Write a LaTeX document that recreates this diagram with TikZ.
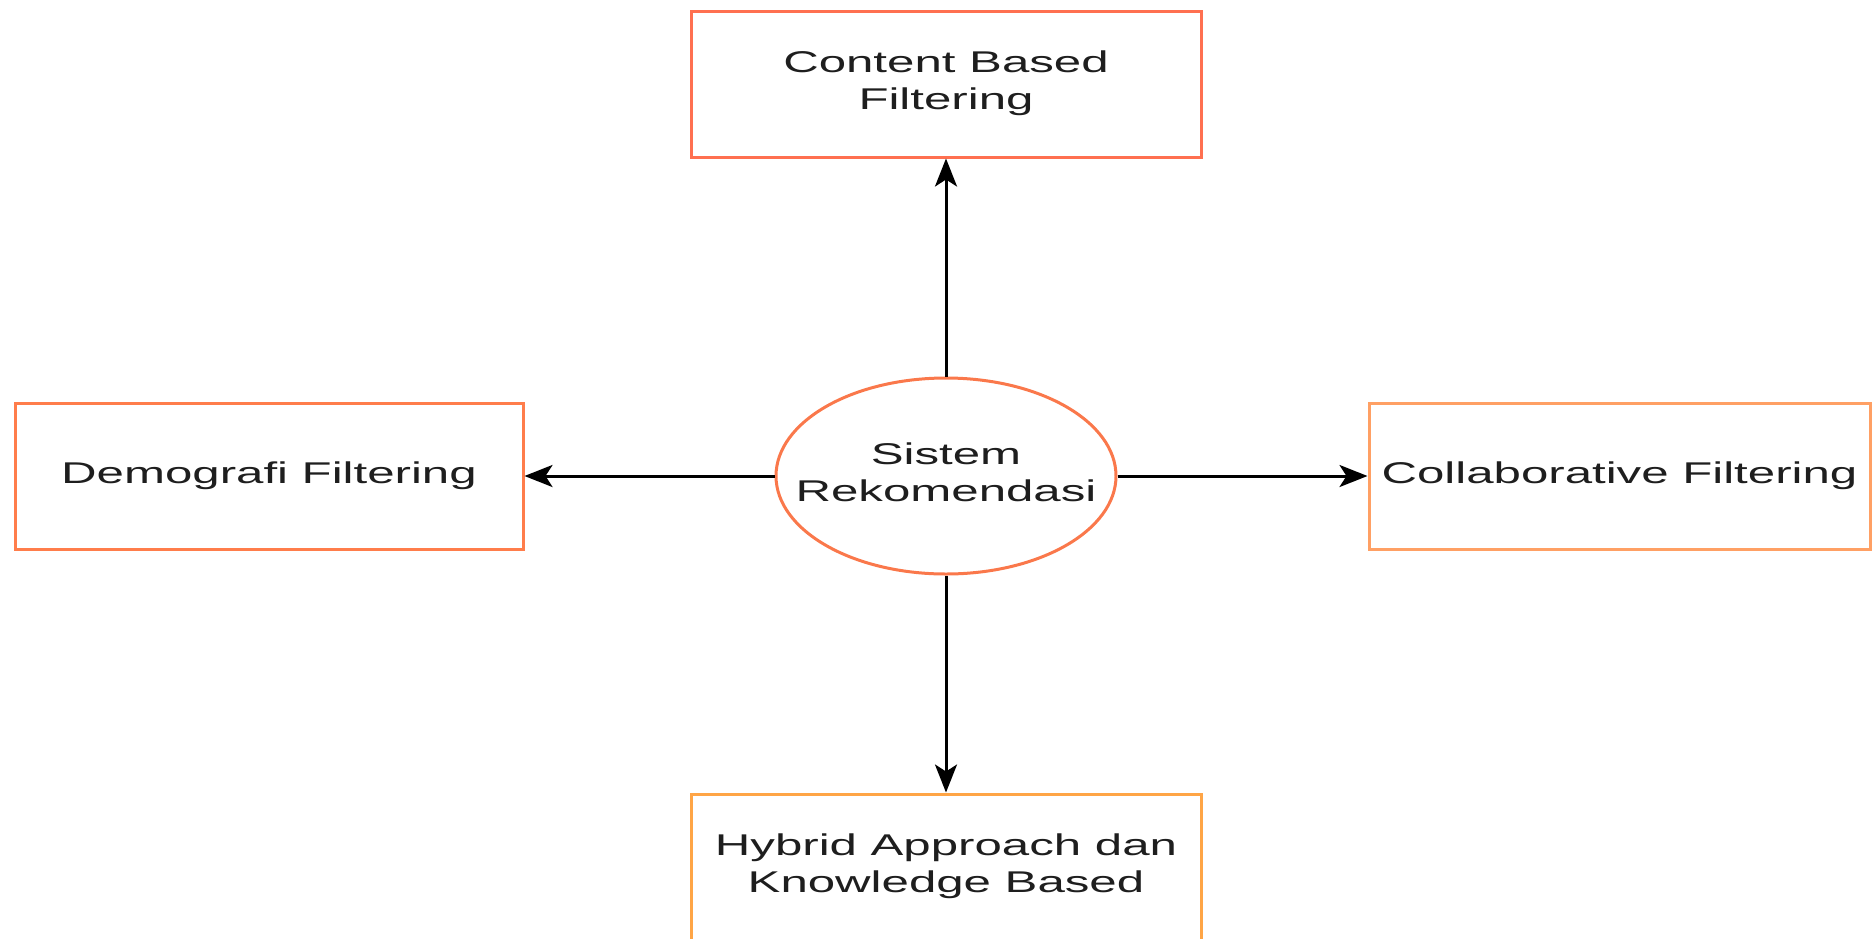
\documentclass[tikz,border=0pt]{standalone}
\usepackage{graphicx}
\usepackage{fontspec}
\setmainfont{Liberation Sans}
\usetikzlibrary{arrows.meta,shapes.geometric}
\definecolor{ctop}{RGB}{255,112,80}
\definecolor{cleft}{RGB}{255,125,75}
\definecolor{cright}{RGB}{255,160,100}
\definecolor{cbot}{RGB}{255,165,70}
\definecolor{cell}{RGB}{250,120,75}
\definecolor{txt}{RGB}{30,30,30}
\newcommand{\widetext}[1]{\scalebox{1.64}[1]{\begin{tabular}{@{}c@{}}#1\end{tabular}}}
\begin{document}
\begin{tikzpicture}[x=1pt,y=-1pt,
  box/.style={draw, rectangle, line width=3pt, minimum height=146pt, inner sep=0pt,
    font=\fontsize{30}{37}\selectfont, text=txt, align=center},
  ell/.style={draw=cell, ellipse, line width=3pt, minimum width=340pt, minimum height=196pt,
    inner sep=0pt},
  lbl/.style={inner sep=0pt, font=\fontsize{30}{37}\selectfont, text=txt, align=center},
  arr/.style={line width=3pt, black, -{Stealth[length=28pt,width=22pt,inset=7pt]}}]
\useasboundingbox (0,0) rectangle (1872,938);
\clip (0,0) rectangle (1872,938);
\node[box, draw=ctop, minimum width=510pt] (top) at (946,84) {\widetext{Content Based\\Filtering}};
\node[box, draw=cleft, minimum width=508pt] (left) at (269,476) {\widetext{Demografi Filtering}};
\node[box, draw=cright, minimum width=501pt] (right) at (1619.5,476) {\widetext{Collaborative Filtering}};
\node[box, draw=cbot, minimum width=510pt] (bot) at (946,867) {\widetext{Hybrid Approach dan\\Knowledge Based}};
\node[ell] (sys) at (946,476) {};
\node[lbl] (syslbl) at (sys.center) {\widetext{Sistem\\Rekomendasi}};
\draw[arr] (sys.north) -- (top.south);
\draw[arr] (sys.south) -- (bot.north);
\draw[arr] (sys.west) -- (left.east);
\draw[arr] (sys.east) -- (right.west);
\end{tikzpicture}
\end{document}
